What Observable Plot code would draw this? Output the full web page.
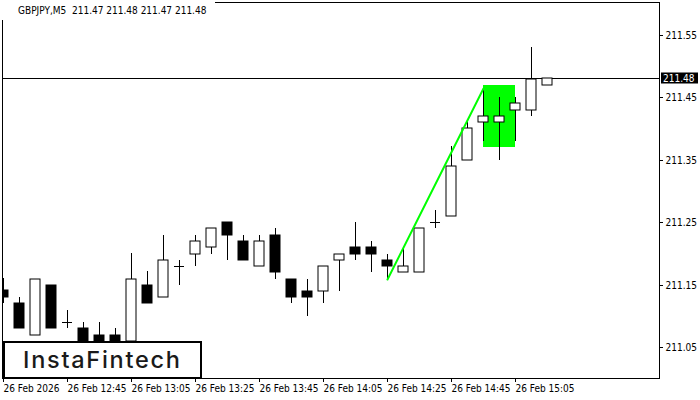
<!DOCTYPE html>
<html><head><meta charset="utf-8">
<script src="https://cdn.jsdelivr.net/npm/d3@7"></script>
<script src="https://cdn.jsdelivr.net/npm/@observablehq/plot@0.6"></script>
<style>
html,body{margin:0;padding:0;background:#fff;}
#wrap{position:relative;width:700px;height:400px;overflow:hidden;background:#fff;}
#title{position:absolute;left:0;top:0;width:215px;height:20px;background:#fff;
  font-family:"DejaVu Sans Condensed","DejaVu Sans",sans-serif;font-stretch:condensed;font-size:10px;color:#000;white-space:pre;}
#title span{position:absolute;left:18px;top:5px;}
#logo{position:absolute;left:3px;top:341px;}
</style></head>
<body><div id="wrap"><div id="chart"></div><div id="title"><span></span></div><svg id="logo" width="199" height="38"></svg></div>
<script>
// ---- data (GBPJPY M5, 26 Feb 2026, from 12:25) ----
const symbol = "GBPJPY,M5";
const open  = [211.141,211.121,211.070,211.150,211.090,211.081,211.070,211.070,211.060,211.150,211.130,211.180,211.199,211.211,211.251,211.220,211.180,211.230,211.159,211.140,211.140,211.189,211.211,211.211,211.190,211.171,211.171,211.251,211.260,211.350,211.411,211.411,211.430,211.430,211.470];
const high  = [211.160,211.131,211.159,211.150,211.110,211.091,211.091,211.081,211.200,211.172,211.230,211.190,211.230,211.241,211.251,211.230,211.230,211.241,211.159,211.159,211.180,211.199,211.251,211.220,211.199,211.207,211.241,211.270,211.372,211.415,211.465,211.451,211.451,211.531,211.480];
const low   = [211.121,211.080,211.070,211.080,211.080,211.050,211.050,211.050,211.050,211.120,211.130,211.149,211.180,211.199,211.189,211.189,211.180,211.159,211.120,211.100,211.120,211.140,211.189,211.170,211.159,211.171,211.171,211.240,211.260,211.350,211.380,211.350,211.380,211.420,211.470];
const close = [211.130,211.080,211.159,211.080,211.090,211.060,211.060,211.060,211.159,211.120,211.190,211.180,211.220,211.241,211.230,211.189,211.220,211.170,211.130,211.130,211.180,211.199,211.199,211.199,211.180,211.180,211.241,211.251,211.340,211.401,211.420,211.420,211.441,211.479,211.480];
const lastPrice = 211.48;
const poleIdx = [24, 30];
const poleVal = [211.159, 211.465];
const flagIdx = [30, 32];
const flagVal = [211.37, 211.47];
const yTicks = [211.05, 211.15, 211.25, 211.35, 211.45, 211.55];
const xTickIdx = [0, 4, 8, 12, 16, 20, 24, 28, 32];
const xLabels = ["26 Feb 2026","26 Feb 12:45","26 Feb 13:05","26 Feb 13:25","26 Feb 13:45","26 Feb 14:05","26 Feb 14:25","26 Feb 14:45","26 Feb 15:05"];
const headerVals = [211.47, 211.48, 211.47, 211.48];
const brand = "InstaFintech";

// ---- build ----
const candles = open.map((o, i) => ({i, o, h: high[i], l: low[i], c: close[i]}));
const HW = 0.3125; // half body width in bar units
const bull = candles.filter(d => d.c > d.o);
const bear = candles.filter(d => d.c < d.o);
const doji = candles.filter(d => d.c === d.o);
const pole = poleIdx.map((x, k) => ({x, y: poleVal[k]}));
const flag = [{x1: flagIdx[0], x2: flagIdx[1], y1: flagVal[0], y2: flagVal[1]}];
const font = '"DejaVu Sans Condensed","DejaVu Sans",sans-serif';

const plot = Plot.plot({
  width: 700, height: 400,
  marginLeft: 2, marginRight: 41, marginTop: 2, marginBottom: 22,
  x: {type: "linear", domain: [-0.0625, 41], round: true},
  y: {domain: [211.0007, 211.6023], round: true},
  style: {fontFamily: font, fontSize: "10px", color: "#000", background: "#fff", fontStretch: "condensed"},
  marks: [
    Plot.rect(flag, {x1: "x1", x2: "x2", y1: "y1", y2: "y2", fill: "#00ff00", clip: true}),
    Plot.ruleY([lastPrice], {stroke: "#000"}),
    Plot.ruleX(candles, {x: "i", y1: "l", y2: "h", stroke: "#000", clip: true}),
    Plot.rect(bull, {x1: d => d.i - HW, x2: d => d.i + HW, y1: "o", y2: "c", fill: "#fff", stroke: "#000", clip: true}),
    Plot.rect(bear, {x1: d => d.i - HW, x2: d => d.i + HW, y1: "o", y2: "c", fill: "#000", stroke: "#000", clip: true}),
    Plot.ruleY(doji, {y: "o", x1: d => d.i - HW, x2: d => d.i + HW, stroke: "#000", clip: true}),
    Plot.line(pole, {x: "x", y: "y", stroke: "#00ff00", strokeWidth: 2}),
    Plot.frame({stroke: "#000"}),
    Plot.axisY({anchor: "right", ticks: yTicks, tickSize: 3, tickPadding: 3, tickFormat: d => d.toFixed(2), label: null}),
    Plot.axisX({ticks: xTickIdx, tickSize: 4, tickPadding: 2, tickFormat: d => xLabels[xTickIdx.indexOf(d)], textAnchor: "start", dx: 0, label: null})
  ]
});
document.getElementById("chart").appendChild(plot);

// price label on the right axis
const svg = d3.select(plot);
const py = plot.scale("y").apply(lastPrice);
const g = svg.append("g").attr("font-family", font).attr("font-size", 10).attr("text-anchor", "start");
g.append("rect").attr("x", 661).attr("y", py - 5.5).attr("width", 37).attr("height", 11).attr("fill", "#000");
g.append("text").attr("x", 663).attr("y", py + 4).attr("fill", "#fff").attr("text-anchor", "start")
  .style("font-stretch", "condensed").text(lastPrice.toFixed(2));

// header
document.querySelector("#title span").textContent = symbol + "  " + headerVals.map(v => v.toFixed(2)).join(" ");

// brand box
const logo = d3.select("#logo");
logo.append("rect").attr("x", 1).attr("y", 1).attr("width", 197).attr("height", 36).attr("fill", "#fff").attr("stroke", "#000").attr("stroke-width", 2);
logo.append("text").attr("x", 20).attr("y", 27).attr("font-family", "Inter, Lato, sans-serif").attr("font-weight", 500)
  .attr("font-size", 23.5).attr("fill", "#1a1a1a").attr("textLength", 157).attr("lengthAdjust", "spacing").text(brand);
</script>
</body></html>
